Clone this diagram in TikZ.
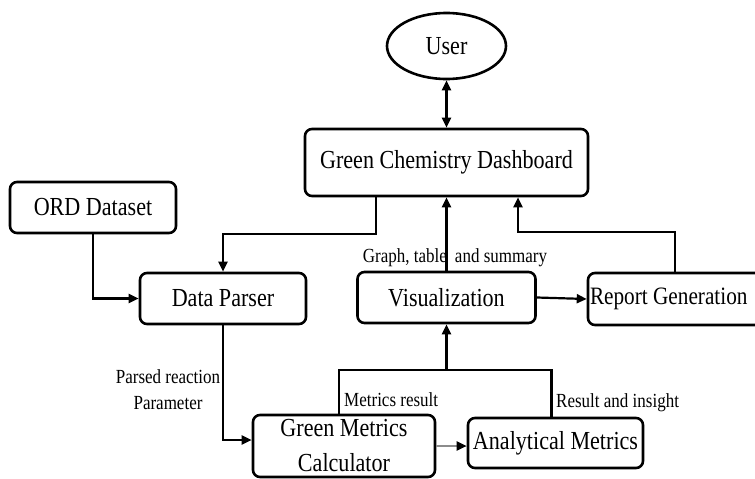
\documentclass[tikz,border=0pt]{standalone}
\usepackage{fontspec}
\setmainfont[FakeStretch=0.85]{Liberation Serif}
\usepackage{tikz}
\usetikzlibrary{arrows.meta,shapes.geometric}
\tikzset{
  box/.style={draw,line width=2.6pt,rounded corners=7pt,fill=white,inner sep=1pt,
    align=center,font=\fontsize{26}{35}\selectfont},
  enduser/.style={draw,ellipse,line width=2.6pt,inner sep=0pt,
    minimum width=119pt,minimum height=66pt,font=\fontsize{26}{35}\selectfont},
  wire/.style={line width=2.2pt},
  flow/.style={line width=2.2pt,-{Triangle[length=10pt,width=9pt]}},
  twoway/.style={line width=2.2pt,{Triangle[length=10pt,width=9pt]}-{Triangle[length=10pt,width=9pt]}},
  greyflow/.style={line width=2.2pt,black!45,-{Triangle[length=10pt,width=9pt,color=black]}},
  note/.style={inner sep=0pt,align=center,font=\fontsize{20}{26}\selectfont}
}

\begin{document}
\begin{tikzpicture}[x=1pt,y=-1pt]
  \path[use as bounding box,fill=white] (0,0) rectangle (755,479);
  \node[enduser] (user) at (446.5,46) {User};
  \node[box,minimum width=283pt,minimum height=67pt] (dash) at (446.5,162.5) {Green Chemistry Dashboard};
  \node[box,minimum width=166pt,minimum height=51pt] (ord) at (93,207.5) {ORD Dataset};
  \node[box,minimum width=166pt,minimum height=51pt] (parser) at (223,298.5) {Data Parser};
  \node[box,minimum width=178pt,minimum height=51pt] (vis) at (446.5,297.5) {Visualization};
  \node[box,minimum width=174pt,minimum height=52pt,text width=170pt,align=flush left,
    font=\fontsize{25}{35}\selectfont] (report) at (675,299) {Report Generation};
  \node[box,minimum width=182pt,minimum height=62pt] (gmc) at (344,446) {Green Metrics\\Calculator};
  \node[box,minimum width=175pt,minimum height=50pt] (anm) at (555.5,443) {Analytical Metrics};
  \coordinate (join) at (446.5,370);
  \draw[twoway] (user) -- (dash);
  \draw[flow] ([xshift=-70.5pt]dash.south) -- ++(0,37) -| (parser.north);
  \draw[flow] (ord.south) |- (parser.west);
  \draw[flow] (vis.north) -- (dash.south);
  \draw[flow] (report.north) -- ++(0,-40) -| ([xshift=71.5pt]dash.south);
  \draw[flow] (vis.east) -- (report.west);
  \draw[flow] (parser.south) |- ([yshift=6pt]gmc.west);
  \draw[wire] ([xshift=-5pt]gmc.north) |- (join) -| ([xshift=-4pt]anm.north);
  \draw[flow] (join) -- (vis.south);
  \draw[greyflow] (gmc.east) -- (gmc.east -| anm.west);
  \node[note] (shown) at (455,258) {Graph, table\hspace{8pt}and summary};
  \node[note,anchor=west] (scores) at (344,400) {Metrics result};
  \node[note,anchor=west] (insight) at (556,403) {Result and insight};
  \node[note] (parsed) at (168,390) {Parsed reaction\\Parameter};
\end{tikzpicture}
\end{document}
